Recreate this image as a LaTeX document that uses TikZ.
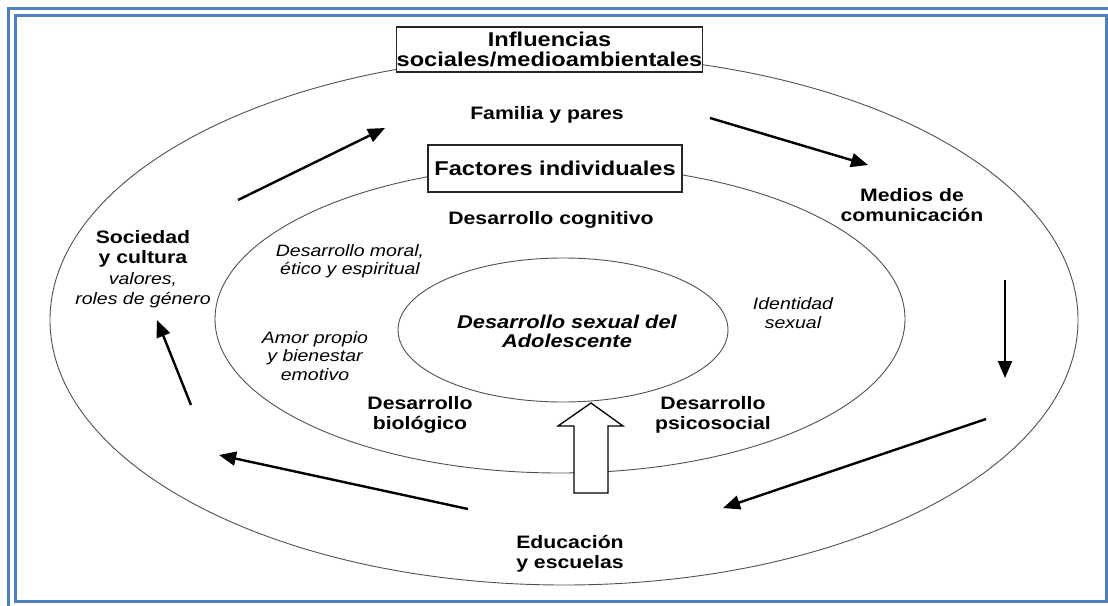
\documentclass[tikz,border=0pt]{standalone}
\usepackage{fontspec}
\setmainfont{Liberation Sans}[FakeStretch=1.18]
\usetikzlibrary{arrows.meta,shapes.geometric,positioning}
\definecolor{frameblue}{RGB}{79,129,189}
\definecolor{ringgray}{RGB}{80,80,80}

\begin{document}
\begin{tikzpicture}[x=1pt,y=-1pt,% pixel-like units, y going down
		every node/.style={
			align=center,	% so that "\\" breaks lines
			inner sep=0pt
		},
		ring/.style={ellipse,draw=ringgray,line width=0.9pt,inner sep=0pt},
		titlebox/.style={rectangle,draw=black!85,line width=1.3pt,fill=white,font=\fontsize{20}{19.5}\selectfont\bfseries},
		lbl/.style={font=\fontsize{18}{20.5}\selectfont\bfseries},
		sub/.style={font=\fontsize{16.5}{18.5}\selectfont\itshape},
		cyclearrow/.style={-{Triangle[length=17pt,width=14pt]},line width=2.4pt}
	]
	\useasboundingbox (0,0) rectangle (1108,605);
	% double frame
	\draw[frameblue,line width=3pt] (8.5,8.5) rectangle (1114,612);
	\draw[frameblue,line width=3.5pt] (15.5,15.5) rectangle (1106.5,601.5);

	% rings
	\node[ring,minimum width=1028pt,minimum height=530pt](Outer) at (564,320){};
	\node[ring,minimum width=690pt,minimum height=308pt](Middle) at (560,319){};
	\node[ring,minimum width=330pt,minimum height=144pt](Inner) at (563,330){};

	% boxes on the rings
	\node[titlebox,minimum width=303pt,minimum height=45pt](Infl) at (549.5,49.5){Influencias\\sociales/medioambientales};
	\node[titlebox,minimum width=254pt,minimum height=47pt](Fact) at (555,168.5){Factores individuales};

	% outer ring labels
	\node[lbl](Familia) at (547,115){Familia y pares};
	\node[lbl](Medios) at (912,205){Medios de\\comunicación};
	\node[lbl](Educ) at (570,554){Educación\\y escuelas};
	\node[lbl](Soc) at (143,269){Sociedad\\y cultura\\{\fontsize{16.5}{18.5}\selectfont\mdseries\itshape valores,}\\{\fontsize{16.5}{18.5}\selectfont\mdseries\itshape roles de género}};

	% middle ring labels
	\node[lbl](Cogn) at (551,220){Desarrollo cognitivo};
	\node[sub](Moral) at (350,261){Desarrollo moral,\\ético y espiritual};
	\node[sub](Amor) at (315,356){Amor propio\\y bienestar\\emotivo};
	\node[sub](Ident) at (793,313){Identidad\\sexual};
	\node[lbl](Biol) at (420,415){Desarrollo\\biológico};
	\node[lbl](Psico) at (713,415){Desarrollo\\psicosocial};

	% centre
	\node[font=\fontsize{18.5}{19}\selectfont\bfseries\itshape](Sexual) at (567,331){Desarrollo sexual del\\Adolescente};

	% arrow ends
	\coordinate (a1s) at (238,200); \coordinate (a1e) at (385,128);
	\coordinate (a2s) at (710,118); \coordinate (a2e) at (868,165);
	\coordinate (a3s) at (1005,280); \coordinate (a3e) at (1005,378);
	\coordinate (a4s) at (986,419); \coordinate (a4e) at (723,508);
	\coordinate (a5s) at (468,509); \coordinate (a5e) at (219,455);
	\coordinate (a6s) at (191,405); \coordinate (a6e) at (157,320);
	\draw[cyclearrow] (a1s) -- (a1e);
	\draw[cyclearrow] (a2s) -- (a2e);
	\draw[cyclearrow,line width=2pt] (a3s) -- (a3e);
	\draw[cyclearrow] (a4s) -- (a4e);
	\draw[cyclearrow] (a5s) -- (a5e);
	\draw[cyclearrow] (a6s) -- (a6e);

	% hollow block arrow towards the centre
	\draw[line width=1.3pt,fill=white] (574,493) -- (574,426) -- (558,426) -- (591,403) -- (623,426) -- (608,426) -- (608,493) -- cycle;
\end{tikzpicture}
\end{document}
